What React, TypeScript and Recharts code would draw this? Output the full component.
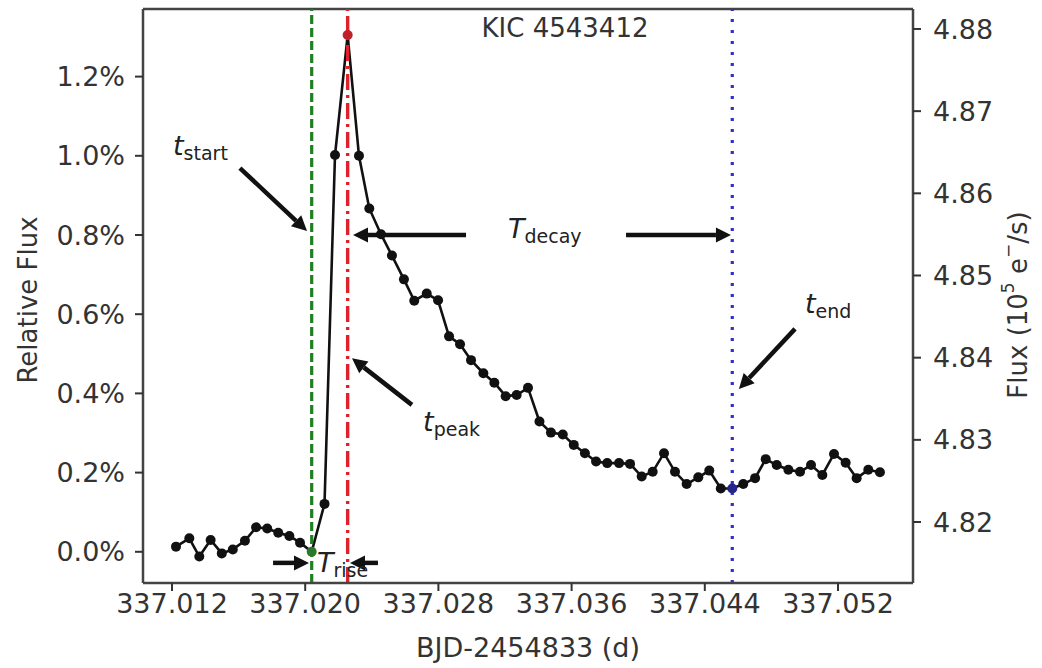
import React from "react";
import {
  LineChart, Line, XAxis, YAxis, ReferenceLine, ReferenceDot,
} from "recharts";

// BJD-2454833 (d), one point per short cadence
const TIMES = [
  337.01224, 337.01304, 337.01364, 337.01432, 337.01499, 337.01565, 337.01638,
  337.01705, 337.01772, 337.01838, 337.01905, 337.01969, 337.02039, 337.02116,
  337.02179, 337.02255, 337.02323, 337.02385, 337.02455, 337.02521, 337.02593,
  337.02655, 337.0273, 337.02798, 337.02864, 337.0293, 337.02996, 337.0307,
  337.03136, 337.03204, 337.0327, 337.03338, 337.03407, 337.03476, 337.03547,
  337.03613, 337.0368, 337.03747, 337.03814, 337.03885, 337.03951, 337.04021,
  337.04087, 337.04155, 337.04221, 337.04291, 337.04361, 337.04427, 337.04496,
  337.04565, 337.04631, 337.04702, 337.04766, 337.04832, 337.04902, 337.04972,
  337.05038, 337.05106, 337.05176, 337.05246, 337.05312, 337.05382, 337.05452,
];

// relative flux in %
const REL = [
  0.013, 0.034, -0.012, 0.030, -0.004, 0.006, 0.028,
  0.062, 0.059, 0.048, 0.040, 0.023, 0.000, 0.121,
  1.002, 1.305, 1.000, 0.867, 0.802, 0.748, 0.688,
  0.634, 0.652, 0.635, 0.544, 0.524, 0.484, 0.451,
  0.427, 0.393, 0.396, 0.414, 0.329, 0.301, 0.296,
  0.270, 0.249, 0.228, 0.224, 0.224, 0.222, 0.190,
  0.202, 0.249, 0.202, 0.171, 0.188, 0.205, 0.160,
  0.160, 0.171, 0.186, 0.234, 0.219, 0.207, 0.202,
  0.219, 0.194, 0.247, 0.225, 0.186, 0.207, 0.201,
];

const X_TICKS = [337.012, 337.02, 337.028, 337.036, 337.044, 337.052];
const LEFT_TICKS = [0, 0.2, 0.4, 0.6, 0.8, 1.0, 1.2];
const RIGHT_TICKS = [4.82, 4.83, 4.84, 4.85, 4.86, 4.87, 4.88];

const START_IDX = 12;
const PEAK_IDX = 15;
const END_IDX = 49;

const X_DOMAIN = [337.010258, 337.056505];
const LEFT_DOMAIN = [-0.0788, 1.3707];
const RIGHT_DOMAIN = [4.81258, 4.88243];

const data = TIMES.map((t, i) => ({ t, rel: REL[i] }));

const FONT = "DejaVu Sans";
const INK = "#333";

// annotation arrows, in data coordinates [t, rel]
const ARROWS = [
  [[337.01608, 0.969], [337.02011, 0.810]],
  [[337.02966, 0.800], [337.02287, 0.800]],
  [[337.03927, 0.800], [337.04557, 0.800]],
  [[337.02641, 0.371], [337.02281, 0.489]],
  [[337.04942, 0.563], [337.04605, 0.411]],
  [[337.01807, -0.028], [337.02023, -0.028]],
  [[337.02437, -0.028], [337.02269, -0.028]],
];

// label anchor (left, baseline), main letter, subscript
const LABELS = [
  { t: 337.01206, r: 1.002, main: "t", sub: "start" },
  { t: 337.02708, r: 0.305, main: "t", sub: "peak" },
  { t: 337.05002, r: 0.603, main: "t", sub: "end" },
  { t: 337.03218, r: 0.792, main: "T", sub: "decay" },
  { t: 337.02071, r: -0.051, main: "T", sub: "rise" },
];

function Arrow(p: any) {
  const { x1, y1, x2, y2 } = p;
  const dx = x2 - x1, dy = y2 - y1;
  const len = Math.sqrt(dx * dx + dy * dy) || 1;
  const ux = dx / len, uy = dy / len;
  const hl = 15, hw = 7.5;
  const bx = x2 - ux * hl, by = y2 - uy * hl;
  const pts = `${x2},${y2} ${bx - uy * hw},${by + ux * hw} ${bx + uy * hw},${by - ux * hw}`;
  return (
    <g>
      <line x1={x1} y1={y1} x2={bx} y2={by} stroke="#111" strokeWidth={4.5} />
      <polygon points={pts} fill="#111" />
    </g>
  );
}

function Dot(props: any) {
  const { cx, cy, index } = props;
  let fill = "#111";
  if (index === START_IDX) fill = "#2a7a2a";
  if (index === PEAK_IDX) fill = "#c0202a";
  if (index === END_IDX) fill = "#25258a";
  return <circle key={index} cx={cx} cy={cy} r={5} fill={fill} />;
}

export default function App() {
  return (
    <div style={{ position: "absolute", left: 0, top: 0, width: 1042, height: 668, background: "#fff" }}>
      <div
        style={{
          position: "absolute", top: 13, left: 565, transform: "translateX(-50%)",
          fontFamily: FONT, fontSize: 26, color: INK, whiteSpace: "nowrap", zIndex: 2,
        }}
      >
        KIC 4543412
      </div>
      <LineChart width={1042} height={668} data={data} margin={{ top: 9, right: 0, left: 0, bottom: 0 }}>
        <XAxis
          dataKey="t"
          type="number"
          domain={X_DOMAIN}
          ticks={X_TICKS}
          allowDataOverflow
          height={85}
          tickFormatter={(v: number) => v.toFixed(3)}
          tick={{ fontSize: 27, fill: INK, fontFamily: FONT }}
          tickSize={8}
          tickMargin={3}
          tickLine={{ stroke: INK, strokeWidth: 2 }}
          axisLine={{ stroke: "#444", strokeWidth: 2.5 }}
          label={{
            content: ({ viewBox }: any) => (
              <text
                x={viewBox.x + viewBox.width / 2}
                y={657}
                textAnchor="middle"
                fontFamily={FONT}
                fontSize={27}
                fill={INK}
              >
                BJD-2454833 (d)
              </text>
            ),
          }}
        />
        <YAxis
          yAxisId="left"
          type="number"
          domain={LEFT_DOMAIN}
          ticks={LEFT_TICKS}
          allowDataOverflow
          width={143}
          tickFormatter={(v: number) => v.toFixed(1) + "%"}
          tick={{ fontSize: 27, fill: INK, fontFamily: FONT }}
          tickSize={8}
          tickMargin={10}
          tickLine={{ stroke: INK, strokeWidth: 2 }}
          axisLine={{ stroke: "#444", strokeWidth: 2.5 }}
          label={{
            content: () => (
              <text
                x={28}
                y={300}
                transform="rotate(-90 28 300)"
                textAnchor="middle"
                dominantBaseline="central"
                fontFamily={FONT}
                fontSize={26}
                fill={INK}
              >
                Relative Flux
              </text>
            ),
          }}
        />
        <YAxis
          yAxisId="right"
          orientation="right"
          type="number"
          domain={RIGHT_DOMAIN}
          ticks={RIGHT_TICKS}
          allowDataOverflow
          width={129}
          tickFormatter={(v: number) => v.toFixed(2)}
          tick={{ fontSize: 27, fill: INK, fontFamily: FONT }}
          tickSize={8}
          tickMargin={12}
          tickLine={{ stroke: INK, strokeWidth: 2 }}
          axisLine={{ stroke: "#444", strokeWidth: 2.5 }}
          label={{
            content: () => (
              <text
                x={1018}
                y={305}
                transform="rotate(-90 1018 305)"
                textAnchor="middle"
                dominantBaseline="central"
                fontFamily={FONT}
                fontSize={26}
                fill={INK}
              >
                Flux (10
                <tspan fontSize={17} dy={-10}>5</tspan>
                <tspan dy={10}> e</tspan>
                <tspan fontSize={17} dy={-10}>−</tspan>
                <tspan dy={10}>/s)</tspan>
              </text>
            ),
          }}
        />
        <ReferenceLine yAxisId="left" y={LEFT_DOMAIN[1]} stroke="#444" strokeWidth={2.5} ifOverflow="visible" />
        <Line
          yAxisId="left"
          dataKey="rel"
          stroke="#111"
          strokeWidth={2.6}
          dot={Dot}
          activeDot={false}
          isAnimationActive={false}
        />
        <ReferenceLine
          yAxisId="left"
          x={TIMES[START_IDX]}
          stroke="#208020"
          strokeWidth={3.2}
          strokeDasharray="9 4"
        />
        <ReferenceLine
          yAxisId="left"
          x={TIMES[PEAK_IDX]}
          stroke="#e0202a"
          strokeWidth={3.4}
          strokeDasharray="16 5 3 5"
        />
        <ReferenceLine
          yAxisId="left"
          x={TIMES[END_IDX]}
          stroke="#3030d0"
          strokeWidth={3.2}
          strokeDasharray="3 8"
        />
        {ARROWS.map((a, i) => (
          <ReferenceLine
            key={"a" + i}
            yAxisId="left"
            segment={[{ x: a[0][0], y: a[0][1] }, { x: a[1][0], y: a[1][1] }]}
            ifOverflow="visible"
            shape={Arrow}
          />
        ))}
        {LABELS.map((l, i) => (
          <ReferenceDot
            key={"l" + i}
            yAxisId="left"
            x={l.t}
            y={l.r}
            r={0}
            ifOverflow="visible"
            shape={(p: any) => (
              <text x={p.cx} y={p.cy} fontFamily={FONT} fill="#222">
                <tspan fontSize={27} fontStyle="italic">{l.main}</tspan>
                <tspan fontSize={19} dy={5}>{l.sub}</tspan>
              </text>
            )}
          />
        ))}
      </LineChart>
    </div>
  );
}
